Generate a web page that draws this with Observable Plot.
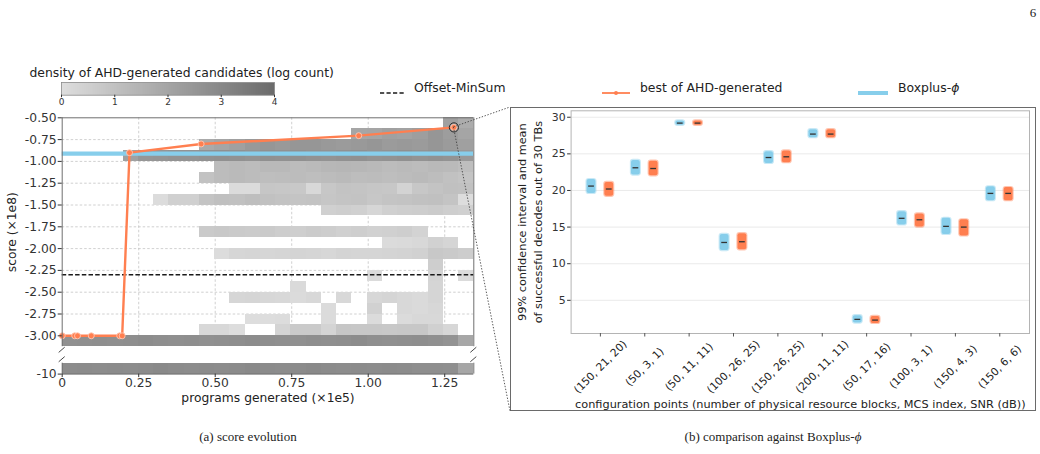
<!DOCTYPE html>
<html>
<head>
<meta charset="utf-8">
<script src="https://cdn.jsdelivr.net/npm/d3@7"></script>
<script src="https://cdn.jsdelivr.net/npm/@observablehq/plot@0.6"></script>
<style>
  html, body { margin: 0; padding: 0; background: #fff; }
  body { width: 1040px; height: 454px; position: relative; overflow: hidden;
         font-family: "DejaVu Sans", sans-serif; color: #222; }
  .abs { position: absolute; white-space: nowrap; }
  .legend-item { position: absolute; font-size: 12.4px; line-height: 1; transform: translateY(-50%); }
  .caption { position: absolute; font-family: "Liberation Serif", "Times New Roman", serif;
             font-size: 13px; transform: translate(-50%, -50%); white-space: nowrap; }
  svg { overflow: visible; }
</style>
</head>
<body>
<script>
const _ = null;

// ---------- (a) score evolution ----------
const xTicks = [0, 0.25, 0.5, 0.75, 1.0, 1.25];                 // programs generated (x1e5)
const yTicks = [-0.5, -0.75, -1.0, -1.25, -1.5, -1.75, -2.0, -2.25, -2.5, -2.75, -3.0]; // score (x1e8)
const xMax = 1.345;          // last program index (x1e5)
const xBinCount = 27;        // histogram columns
const yBinTop = -0.5;        // first score row starts here
const yBinHeight = 0.125;    // score row height

// first column of every score row, then its log-count values
const heatStart = [25, 19, 9, 4, 10, 9, 11, 6, 17, 0, 9, 21, 10, 24, 20, 15, 11, 17, 12, 9, 0];
const heatLogCount = [
  [2.16, 1.75],
  [1.95, 1.98, 2.16, 2.1, 2.23, 2.5, 2.26, 1.98],
  [1.8, 1.98, 2.16, 2.4, 2.5, 2.4, 2.5, 2.5, 2.4, 2.33, 2.4, 2.5, 2.33, 2.4, 2.33, 2.5, 2.33, 2.16],
  [2.16, 2.5, 2.55, 2.6, 2.6, 2.68, 2.7, 2.68, 2.6, 2.7, 2.68, 2.7, 2.65, 2.6, 2.68, 2.7, 2.6, 2.65, 2.7, 2.6, 2.68, 2.6, 2.4],
  [1.2, 1.25, 1.2, 1.3, 1.3, 1.2, 1.25, 1.35, 1.4, 1.35, 1.3, 1.2, 1.25, 1.2, 1.3, 1.25, 1.1],
  [0.97, 1.2, 1.25, 1.2, 1.1, 1.15, 1.2, 1.1, 1.2, 1.25, 1.15, 1.2, 1.1, 1.2, 1.25, 1.15, 1.0, 0.9],
  [0.1, 0.12, 0.83, 0.8, 0.75, 0.2, 0.8, 0.95, 0.9, 0.85, 0.8, 0.4, 0.8, 0.95, 1.05, 1.0],
  [0.07, 0.49, 0.5, 0.9, 1.05, 1.0, 1.1, 1.0, 0.95, 0.9, 0.95, 0.85, 0.9, 0.95, 0.8, 0.9, 0.95, 1.0, 1.05, 0.9, 0.02],
  [0.5, 0.55, 0.5, 0.28, 0.5, 0.55, 0.6, 0.65, 0.55, 0.5],
  [],
  [0.7, 0.75, 0.7, 0.65, 0.7, 0.6, 0.55, 0.65, 0.6, 0.5, 0.55, 0.45, 0.5, 0.55, 0.4],
  [0.1, 0.15, 0.2, 0.45, 0.3],
  [0.07, 0.28, 0.3, 0.28, 0.3, 0.35, 0.3, 0.25, 0.35, 0.3, 0.3, 0.35, 0.4, 0.45, 0.75, 0.7, 0.6],
  [0.55],
  [0.1, _, _, _, 0.35, _, 0.1],
  [0.15, _, _, _, _, _, _, _, _, 0.3],
  [0.28, 0.3, 0.25, 0.2, 0.1, 0.2, _, 0.2, _, 0.25, 0.3, 0.2, 0.15, 0.3],
  [0.1, _, _, 0.45, _, 0.2, 0.15, 0.25],
  [0.02, 0.02, 0.07, _, _, 0.1, _, _, 0.1, _, 0.1, 0.2, 0.2],
  [0.2, 0.2, 0.05, _, _, 0.35, 0.7, 0.7, 0.35, 0.83, 0.8, 0.8, 0.75, 0.8, 0.8, 0.5, 0.25],
  [2.7, 2.75, 2.8, 2.75, 2.8, 2.85, 2.8, 2.75, 2.8, 2.7, 2.75, 2.8, 2.85, 2.8, 2.75, 2.7, 2.8, 2.75, 2.8, 2.85, 2.75, 2.7, 2.75, 2.8, 2.7, 2.6, 1.9]
];
// candidates that failed outright (score -10), shown below the axis break
const failedScore = -10;
const failedLogCount = [2.85, 2.9, 2.85, 2.9, 2.85, 2.9, 2.95, 2.9, 2.85, 2.9, 2.85, 2.9, 2.95, 2.9, 2.85, 2.9, 2.95, 2.9, 2.85, 2.9, 2.85, 2.9, 2.85, 2.8, 2.8, 2.75, 1.95];

// running best of the generated programs
const bestX = [0, 0.041, 0.05, 0.095, 0.188, 0.196, 0.22, 0.454, 0.969, 1.28];
const bestScore = [-3.0, -3.0, -3.0, -3.0, -3.0, -3.0, -0.9, -0.8, -0.705, -0.61];
const offsetMinSumScore = -2.3;
const boxplusScore = -0.91;

// ---------- (b) comparison against Boxplus-phi ----------
const configLabels = ["(150, 21, 20)", "(50, 3, 1)", "(50, 11, 11)", "(100, 26, 25)", "(150, 26, 25)",
                      "(200, 11, 11)", "(50, 17, 16)", "(100, 3, 1)", "(150, 4, 3)", "(150, 6, 6)"];
const boxplusMean = [20.6, 23.1, 29.2, 12.9, 24.5, 27.7, 2.4, 16.2, 15.1, 19.6];
const boxplusLow  = [19.6, 22.1, 28.9, 11.8, 23.7, 27.2, 1.9, 15.3, 14.0, 18.6];
const boxplusHigh = [21.5, 24.1, 29.5, 14.0, 25.3, 28.3, 2.9, 17.1, 16.2, 20.5];
const ahdMean = [20.2, 23.0, 29.2, 13.0, 24.6, 27.7, 2.3, 16.0, 15.0, 19.6];
const ahdLow  = [19.2, 22.0, 28.9, 11.9, 23.8, 27.2, 1.85, 15.0, 13.8, 18.6];
const ahdHigh = [21.1, 24.0, 29.5, 14.1, 25.4, 28.3, 2.8, 16.8, 16.0, 20.4];
const decodeTicks = [5, 10, 15, 20, 25, 30];

// ---------- styles ----------
const coral = "#ff7f50";
const sky = "#87ceeb";
const inkColor = "#222";
const spineColor = "#6e6e6e";
const densityColor = {type: "linear", domain: [0, 4], range: ["#dedede", "#6b6b6b"]};
const font = "DejaVu Sans";

function place(node, left, top) {
  const wrap = document.createElement("div");
  wrap.className = "abs";
  wrap.style.left = left + "px";
  wrap.style.top = top + "px";
  wrap.appendChild(node);
  document.body.appendChild(wrap);
  return node;
}

// histogram cells
const xBinWidth = xMax / xBinCount;
const cells = [];
heatLogCount.forEach((row, r) => {
  row.forEach((v, j) => {
    if (v == null) return;
    const b = heatStart[r] + j;
    cells.push({x1: b * xBinWidth, x2: (b + 1) * xBinWidth,
                y1: yBinTop - r * yBinHeight, y2: yBinTop - (r + 1) * yBinHeight, v});
  });
});
const yBottom = yBinTop - heatLogCount.length * yBinHeight;
const failedCells = failedLogCount.map((v, b) => ({x1: b * xBinWidth, x2: (b + 1) * xBinWidth,
  y1: failedScore, y2: failedScore + yBinHeight, v}));
const best = bestX.map((x, i) => ({x, y: bestScore[i]}));

// ---------- colour bar ----------
const cbarLeft = 0, cbarTop = 82.3;
place(Plot.plot({
  width: 300, height: 32, marginLeft: 61, marginRight: 26, marginTop: 0, marginBottom: 19.3,
  x: {domain: densityColor.domain},
  y: {domain: [0, 1], axis: null},
  color: densityColor,
  style: {fontFamily: font, fontSize: "9px", color: inkColor, overflow: "visible"},
  marks: [
    Plot.raster({x1: 0, x2: 4, y1: 0, y2: 1, fill: (x) => x, pixelSize: 1}),
    Plot.frame({stroke: "#8a8a8a", strokeWidth: 0.8}),
    Plot.axisX({ticks: [0, 1, 2, 3, 4], tickFormat: d => String(d), tickSize: 2.5, tickPadding: 1,
                label: null, color: "#333"}),
    Plot.text(["density of AHD-generated candidates (log count)"], {
      frameAnchor: "top-left", dx: -32, dy: -9, textAnchor: "start", lineAnchor: "middle",
      fontSize: 12.4, fill: inkColor})
  ]
}), cbarLeft, cbarTop);

// ---------- upper score panel ----------
const upperLeft = 0, upperTop = 107;
const upper = place(Plot.plot({
  width: 480, height: 240, marginLeft: 61.7, marginRight: 6.7, marginTop: 10.3, marginBottom: 0.8,
  x: {domain: [0, xMax], axis: null},
  y: {domain: [yBottom, yBinTop]},
  color: densityColor,
  style: {fontFamily: font, fontSize: "12.3px", color: inkColor, overflow: "visible"},
  marks: [
    Plot.ruleX(xTicks.slice(1), {stroke: "#c4c4c4", strokeWidth: 0.8, strokeDasharray: "2.5,2"}),
    Plot.ruleY(yTicks.slice(1), {stroke: "#c4c4c4", strokeWidth: 0.8, strokeDasharray: "2.5,2"}),
    Plot.rect(cells, {x1: "x1", x2: "x2", y1: "y1", y2: "y2", fill: "v", shapeRendering: "crispEdges"}),
    Plot.ruleY([boxplusScore], {stroke: sky, strokeWidth: 4.2}),
    Plot.ruleY([offsetMinSumScore], {stroke: "#1a1a1a", strokeWidth: 1.3, strokeDasharray: "4.5,2.2"}),
    Plot.line(best, {x: "x", y: "y", stroke: coral, strokeWidth: 2.4}),
    Plot.dot(best, {x: "x", y: "y", r: 3, fill: coral, stroke: "#ffc7b3", strokeWidth: 0.9}),
    Plot.dot(best.slice(-1), {x: "x", y: "y", r: 4.6, stroke: "#2a2a2a", strokeWidth: 1, fill: "none"}),
    Plot.ruleY([yBinTop], {stroke: spineColor, strokeWidth: 1}),
    Plot.ruleX([0], {stroke: spineColor, strokeWidth: 1}),
    Plot.ruleX([xMax], {stroke: spineColor, strokeWidth: 1}),
    Plot.axisY({ticks: yTicks, tickFormat: d => d.toFixed(2), tickSize: 4, tickPadding: 1.5,
                label: null, color: "#333"}),
    Plot.text(["score (×1e8)"], {frameAnchor: "left", dx: -50, rotate: -90, textAnchor: "middle",
                lineAnchor: "middle", fontSize: 12.3, fill: inkColor})
  ]
}), upperLeft, upperTop);

// ---------- lower (broken) panel with the x axis ----------
const lowerLeft = 0, lowerTop = 362;
const lower = place(Plot.plot({
  width: 480, height: 45, marginLeft: 61.7, marginRight: 6.7, marginTop: 0.7, marginBottom: 33.4,
  x: {domain: [0, xMax]},
  y: {domain: [failedScore, failedScore + yBinHeight]},
  color: densityColor,
  style: {fontFamily: font, fontSize: "12.3px", color: inkColor, overflow: "visible"},
  marks: [
    Plot.rect(failedCells, {x1: "x1", x2: "x2", y1: "y1", y2: "y2", fill: "v", shapeRendering: "crispEdges"}),
    Plot.ruleY([failedScore], {stroke: spineColor, strokeWidth: 1}),
    Plot.ruleX([0], {stroke: spineColor, strokeWidth: 1}),
    Plot.ruleX([xMax], {stroke: spineColor, strokeWidth: 1}),
    Plot.axisY({ticks: [failedScore], tickFormat: d => String(d), tickSize: 4, tickPadding: 1.5,
                label: null, color: "#333"}),
    Plot.axisX({ticks: xTicks, tickFormat: d => d === 0 ? "0" : d.toFixed(2), tickSize: 3.5,
                tickPadding: 1, label: null, color: "#333"}),
    Plot.text(["programs generated (×1e5)"], {frameAnchor: "bottom", dy: 24, lineAnchor: "middle",
                fontSize: 12.3, fill: inkColor})
  ]
}), lowerLeft, lowerTop);

// ---------- right panel ----------
const rightLeft = 510, rightTop = 107, rightW = 526, rightH = 304;
const border = document.createElement("div");
border.className = "abs";
border.style.cssText += `left:${rightLeft}px;top:${rightTop}px;width:${rightW}px;height:${rightH}px;` +
  "box-sizing:border-box;border:1px solid #6a6a6a;";
document.body.appendChild(border);

const configs = configLabels.map((label, i) => ({
  i, label,
  bMean: boxplusMean[i], bLow: boxplusLow[i], bHigh: boxplusHigh[i],
  aMean: ahdMean[i], aLow: ahdLow[i], aHigh: ahdHigh[i]
}));
const pairOffset = 0.2, boxHalf = 0.1, meanHalf = 0.065;

place(Plot.plot({
  width: rightW, height: rightH, marginLeft: 60.6, marginRight: 7, marginTop: 3.3, marginBottom: 78,
  x: {domain: [-0.66, 9.67], axis: null},
  y: {domain: [0.47, 30.88]},
  style: {fontFamily: font, fontSize: "10.9px", color: inkColor, overflow: "visible"},
  marks: [
    Plot.ruleY(decodeTicks, {stroke: "#e4e4e4", strokeWidth: 0.8}),
    Plot.frame({stroke: "#b4b4b4", strokeWidth: 1}),
    Plot.rect(configs, {x1: d => d.i - pairOffset - boxHalf, x2: d => d.i - pairOffset + boxHalf,
      y1: "bLow", y2: "bHigh", fill: sky, stroke: sky, strokeOpacity: 0.45, strokeWidth: 2.2, rx: 2}),
    Plot.rect(configs, {x1: d => d.i + pairOffset - boxHalf, x2: d => d.i + pairOffset + boxHalf,
      y1: "aLow", y2: "aHigh", fill: coral, stroke: coral, strokeOpacity: 0.45, strokeWidth: 2.2, rx: 2}),
    Plot.ruleY(configs, {x1: d => d.i - pairOffset - meanHalf, x2: d => d.i - pairOffset + meanHalf,
      y: "bMean", stroke: "#333", strokeWidth: 1.3}),
    Plot.ruleY(configs, {x1: d => d.i + pairOffset - meanHalf, x2: d => d.i + pairOffset + meanHalf,
      y: "aMean", stroke: "#333", strokeWidth: 1.3}),
    Plot.axisY({ticks: decodeTicks, tickSize: 3.5, tickPadding: 2, label: null, color: "#333"}),
    Plot.axisX({ticks: configs.map(d => d.i), tickFormat: () => "", tickSize: 3.5, label: null, color: "#555"}),
    Plot.text(configs, {x: "i", text: "label", frameAnchor: "bottom", dy: 33.5, rotate: -45,
      textAnchor: "middle", lineAnchor: "middle", fontSize: 10.7, fill: inkColor}),
    Plot.text(["configuration points (number of physical resource blocks, MCS index, SNR (dB))"], {
      frameAnchor: "bottom", dy: 70.5, lineAnchor: "middle", fontSize: 11.3, fill: inkColor}),
    Plot.text(["99% confidence interval and mean\nof successful decodes out of 30 TBs"], {
      frameAnchor: "left", dx: -42, rotate: -90, textAnchor: "middle", lineAnchor: "middle",
      lineHeight: 1.38, fontSize: 11.3, fill: inkColor})
  ]
}), rightLeft, rightTop);

// ---------- legend ----------
function legendItem(left, text, swatch) {
  const el = document.createElement("div");
  el.className = "legend-item";
  el.style.left = left + "px";
  el.style.top = "88.3px";
  el.innerHTML = text;
  document.body.appendChild(el);
  const sw = document.createElement("div");
  sw.className = "abs";
  sw.style.left = swatch.left + "px";
  sw.style.top = (88.3 - 5) + "px";
  sw.innerHTML = `<svg width="${swatch.width}" height="10">${swatch.svg}</svg>`;
  document.body.appendChild(sw);
}
legendItem(414, "Offset-MinSum", {left: 379.5, width: 24,
  svg: `<line x1="0" x2="24" y1="5" y2="5" stroke="#1a1a1a" stroke-width="1.3" stroke-dasharray="4.2,2.3"/>`});
legendItem(640, "best of AHD-generated", {left: 602, width: 28,
  svg: `<line x1="0" x2="28" y1="5" y2="5" stroke="${coral}" stroke-width="1.8"/>` +
       `<circle cx="14" cy="5" r="2" fill="${coral}"/>`});
legendItem(898, "Boxplus-<i>ϕ</i>", {left: 858, width: 30,
  svg: `<line x1="0" x2="30" y1="5" y2="5" stroke="${sky}" stroke-width="4"/>`});

// ---------- zoom connectors and axis-break marks ----------
const ux = upper.scale("x"), uy = upper.scale("y");
const ly = lower.scale("y");
const focusX = upperLeft + ux.apply(bestX[bestX.length - 1]);
const focusY = upperTop + uy.apply(bestScore[bestScore.length - 1]);
const frameL = upperLeft + ux.apply(0), frameR = upperLeft + ux.apply(xMax);
const upperBottom = upperTop + uy.apply(yBottom);
const lowerTopEdge = lowerTop + ly.apply(failedScore + yBinHeight);
const breakMark = (cx, cy) => `<line x1="${cx - 3}" y1="${cy + 2.6}" x2="${cx + 3}" y2="${cy - 2.6}" stroke="#333" stroke-width="0.9"/>`;
const overlay = document.createElementNS("http://www.w3.org/2000/svg", "svg");
overlay.setAttribute("width", 1040);
overlay.setAttribute("height", 454);
overlay.style.cssText = "position:absolute;left:0;top:0;pointer-events:none;";
overlay.innerHTML =
  `<line x1="${focusX}" y1="${focusY}" x2="${rightLeft}" y2="${rightTop}" stroke="#444" stroke-width="0.9" stroke-dasharray="1.4,1.6"/>` +
  `<line x1="${focusX}" y1="${focusY}" x2="${rightLeft}" y2="${rightTop + rightH}" stroke="#444" stroke-width="0.9" stroke-dasharray="1.4,1.6"/>` +
  breakMark(frameL, upperBottom + 3.6) + breakMark(frameR, upperBottom + 3.6) +
  breakMark(frameL, lowerTopEdge - 3.5) + breakMark(frameR, lowerTopEdge - 3.5);
document.body.appendChild(overlay);

// ---------- captions ----------
function caption(x, y, html, size) {
  const el = document.createElement("div");
  el.className = "caption";
  el.style.left = x + "px";
  el.style.top = y + "px";
  if (size) el.style.fontSize = size;
  el.innerHTML = html;
  document.body.appendChild(el);
}
caption(248, 437, "(a) score evolution");
caption(773, 437, "(b) comparison against Boxplus-<i>ϕ</i>");
caption(1033, 13, "6", "13px");
</script>
</body>
</html>
